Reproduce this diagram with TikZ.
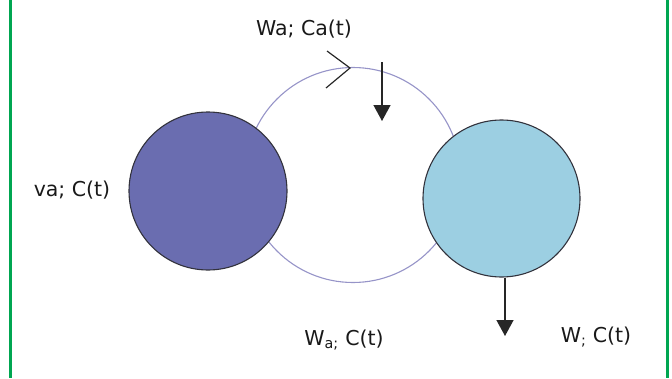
\documentclass[tikz,border=0pt]{standalone}
\usepackage{fontspec}
\setmainfont{DejaVu Sans}
\usetikzlibrary{arrows.meta}
\definecolor{framegreen}{RGB}{0,166,81}
\definecolor{darkblob}{RGB}{106,109,176}
\definecolor{lightblob}{RGB}{156,207,226}
\definecolor{loopcol}{RGB}{150,148,200}
\definecolor{edgecol}{RGB}{50,50,60}
\tikzset{
  blob/.style={circle, draw=edgecol, line width=1.1pt, minimum size=158pt, inner sep=0pt},
  lbl/.style={font=\fontsize{20.5}{24}\selectfont, text=black!90, inner sep=0pt},
  flow/.style={draw=black!85, line width=1.4pt, -{Triangle[width=17pt,length=16pt]}},
  chev/.style={draw=black!85, line width=1.2pt},
}
\begin{document}
\begin{tikzpicture}[x=1pt,y=-1pt]
\useasboundingbox (0,0) rectangle (672,378);
% frame side lines
\coordinate (fl1) at (10,0); \coordinate (fl2) at (10,378);
\coordinate (fr1) at (667,0); \coordinate (fr2) at (667,378);
\draw[framegreen, line width=3pt] (fl1) -- (fl2);
\draw[framegreen, line width=3pt] (fr1) -- (fr2);
% loop
\coordinate (loopc) at (353,175);
\draw[loopcol, line width=1.1pt] (loopc) circle[radius=107.5];
% blobs
\node[blob, fill=darkblob] (L) at (208,191) {};
\node[blob, fill=lightblob, minimum size=157pt] (R) at (501.5,198.5) {};
% chevron on loop
\coordinate (c1) at (327,51); \coordinate (ctip) at (350,68); \coordinate (c2) at (326,88);
\draw[chev] (c1) -- (ctip) -- (c2);
% inflow arrow
\coordinate (in1) at (382,62); \coordinate (in2) at (382,121);
\draw[flow] (in1) -- (in2);
% outflow arrow
\coordinate (out2) at (505,336);
\draw[flow] (R.south -| out2) -- (out2);
% labels
\node[lbl] (t1) at (304,29) {Wa; Ca(t)};
\node[lbl] (t2) at (72,190) {va; C(t)};
\node[lbl] (t3) at (344,340) {W\textsubscript{a;} C(t)};
\node[lbl] (t4) at (596,337) {W\textsubscript{;} C(t)};
\end{tikzpicture}
\end{document}
